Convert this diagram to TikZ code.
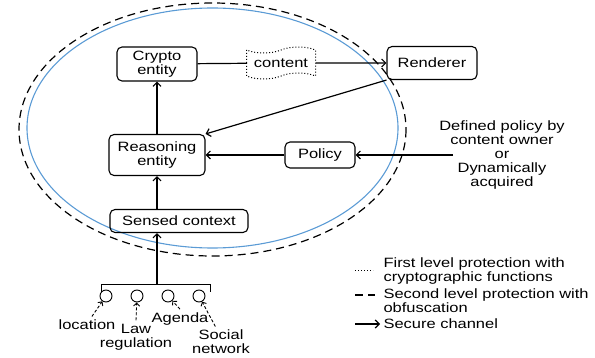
\documentclass[tikz,border=0pt]{standalone}
\usepackage{fontspec}
\setmainfont[FakeStretch=1.22]{Liberation Sans}
\usepackage{xcolor}
\usetikzlibrary{arrows.meta, positioning, shapes.symbols}
\definecolor{ringblue}{RGB}{91,155,213}

\begin{document}
\begin{tikzpicture}[x=1pt, y=-1pt,
  font=\fontsize{13.5}{14}\selectfont,
  box/.style={draw, line width=1.1pt, rounded corners=5pt, align=center, inner sep=0pt},
  sec/.style={-{Straight Barb[length=4pt,width=8pt]}, line width=1.2pt},
  hint/.style={-{Straight Barb[length=3pt,width=6pt]}, densely dashed, line width=0.9pt},
  obf/.style={line width=1.2pt, dash pattern=on 8pt off 5pt}]

  \useasboundingbox (0,0) rectangle (595,358);

  % --- Protection levels ---
  \draw[ringblue, line width=1.1pt] (212.5,128) ellipse (185.5 and 120);
  \draw[obf] (212.5,129.5) ellipse (193.5 and 126.5);

  % --- Entities ---
  \node[box, minimum width=80, minimum height=34] (crypto) at (157,64) {Crypto\\entity};
  \node[draw, dotted, line width=1pt, tape, tape bend top=in and out,
        tape bend bottom=in and out, tape bend height=6pt,
        minimum width=69, minimum height=32, inner sep=0pt] (content) at (281,63) {content};
  \node[box, minimum width=90, minimum height=33] (renderer) at (432,63) {Renderer};
  \node[box, minimum width=96, minimum height=41] (reasoning) at (157,155) {Reasoning\\entity};
  \node[box, minimum width=70, minimum height=26] (policy) at (320,155) {Policy};
  \node[box, minimum width=138, minimum height=23] (sensed) at (179,221) {Sensed context};

  % Policy source
  \node[align=center] (owner) at (502,155) {Defined policy by\\content owner\\or\\Dynamically\\acquired};
  \coordinate (ownerin) at (453,155);

  % --- Channels ---
  \draw[line width=1.2pt] (crypto) -- (content);
  \draw[sec] (content) -- (renderer);
  \draw[sec] (renderer.south west) -- (reasoning.north east);
  \draw[sec] (policy) -- (reasoning);
  \draw[sec] (ownerin) -- (policy);
  \draw[sec] (reasoning) -- (crypto);
  \draw[sec] (reasoning.south |- sensed.north) -- (reasoning.south);

  % --- Context sources ---
  \draw[line width=1pt] (101,292) -- (101,285) -- (210,285) -- (210,292);
  \coordinate (fork) at (157,285);
  \draw[sec] (fork) -- (fork |- sensed.south);
  \foreach \i/\x in {1/106, 2/137, 3/168, 4/199}
    \node[draw, circle, line width=0.9pt, minimum size=12, inner sep=0pt] (src\i) at (\x,296) {};

  \node (location) at (87,325) {location};
  \node[align=center] (law) at (136,337) {Law\\regulation};
  \node (agenda) at (180,319) {Agenda};
  \node[align=center] (social) at (221,342) {Social\\network};
  \draw[hint] (location.60) -- (src1);
  \draw[hint] (law.north) -- (src2);
  \draw[hint] (agenda.north) -- (src3);
  \draw[hint] (social.110) -- (src4);

  % --- Legend ---
  \node[align=left, anchor=west] (legdot) at (380,271) {First level protection with\\cryptographic functions};
  \node[align=left, anchor=west] (legdash) at (380,301) {Second level protection with\\obfuscation};
  \node[anchor=west] (legarrow) at (380,324) {Secure channel};
  \draw[dotted, line width=1pt] ([xshift=-25]legdot.west) -- ([xshift=-7]legdot.west);
  \draw[obf] ([xshift=-25,yshift=6]legdash.west) -- ([xshift=-5,yshift=6]legdash.west);
  \draw[sec] ([xshift=-25]legarrow.west) -- (legarrow.west);

\end{tikzpicture}
\end{document}
